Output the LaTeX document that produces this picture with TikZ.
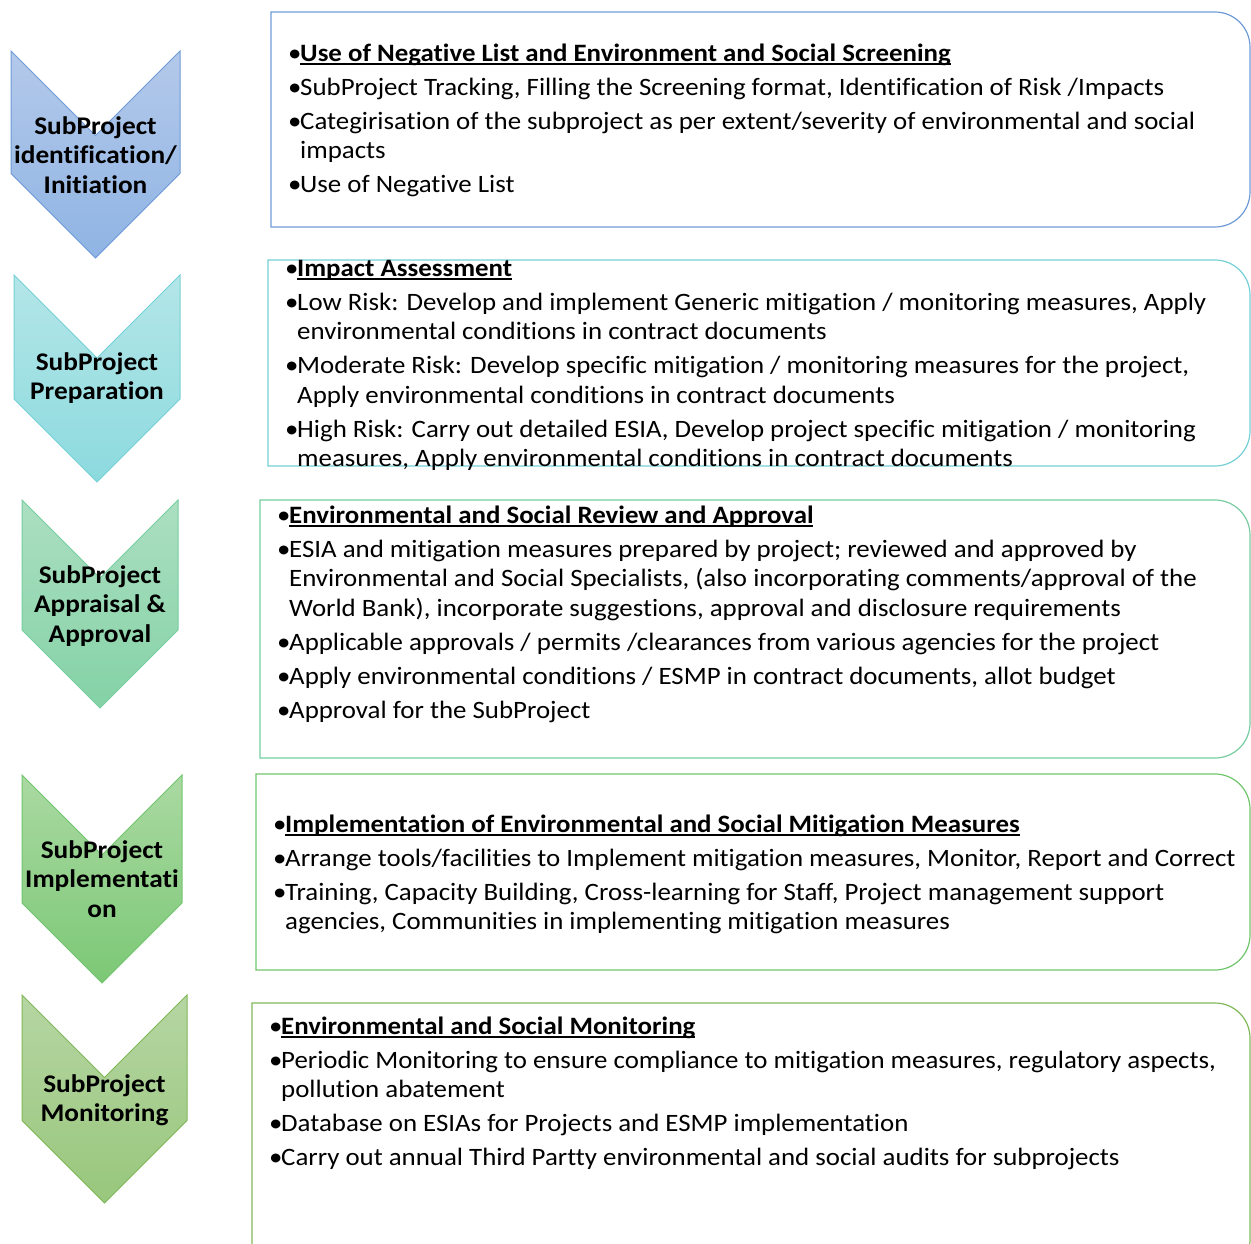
\documentclass[tikz,border=0pt]{standalone}
\usepackage{fontspec}
\setmainfont{Carlito}[FakeStretch=1.075, Ligatures=CommonOff]
\definecolor{b1}{RGB}{110,155,215}
\definecolor{b2}{RGB}{115,208,213}
\definecolor{b3}{RGB}{118,205,160}
\definecolor{b4}{RGB}{112,196,108}
\definecolor{b5}{RGB}{128,184,88}
\definecolor{c1t}{RGB}{180,201,234}
\definecolor{c1b}{RGB}{143,180,228}
\definecolor{c2t}{RGB}{180,230,232}
\definecolor{c2b}{RGB}{140,218,222}
\definecolor{c3t}{RGB}{172,223,193}
\definecolor{c3b}{RGB}{132,210,166}
\definecolor{c4t}{RGB}{170,217,162}
\definecolor{c4b}{RGB}{124,200,118}
\definecolor{c5t}{RGB}{182,213,163}
\definecolor{c5b}{RGB}{152,199,124}
\newcommand\hdr[1]{\setbox0\hbox{\bfseries #1}\rlap{\rule[-3.5pt]{\wd0}{1.7pt}}\box0}
\newcommand\bitem[1]{\par\hangindent=12pt\hangafter=1\noindent\makebox[12pt][l]{•}#1}
\newenvironment{boxtext}{\begin{minipage}[t]{1100pt}\fontsize{25}{29.5}\selectfont\setlength\parskip{4.5pt}\raggedright}{\end{minipage}}
\tikzset{
  chev/.style={line width=1pt},
  panel/.style={line width=1.2pt},
  chlabel/.style={font=\fontsize{25.4}{29.5}\selectfont\bfseries, align=center, inner sep=0pt},
  paneltext/.style={anchor=base west, inner sep=0pt}
}
\begin{document}
\begin{tikzpicture}[x=1pt,y=1pt]
\useasboundingbox (0,0) rectangle (1251,-1243);
\clip (0,0) rectangle (1251,-1243);
% chevrons
\draw[chev, draw=b1, top color=c1t, bottom color=c1b] (11,-51) -- (95.5,-135.5) -- (180,-51) -- (180,-173.5) -- (95.5,-258) -- (11,-173.5) -- cycle;
\draw[chev, draw=b2, top color=c2t, bottom color=c2b] (14,-275) -- (97,-358) -- (180,-275) -- (180,-399) -- (97,-482) -- (14,-399) -- cycle;
\draw[chev, draw=b3, top color=c3t, bottom color=c3b] (22,-500) -- (100,-578) -- (178,-500) -- (178,-630) -- (100,-708) -- (22,-630) -- cycle;
\draw[chev, draw=b4, top color=c4t, bottom color=c4b] (22,-775) -- (102,-855) -- (182,-775) -- (182,-903) -- (102,-983) -- (22,-903) -- cycle;
\draw[chev, draw=b5, top color=c5t, bottom color=c5b] (22,-995) -- (104.5,-1077.5) -- (187,-995) -- (187,-1120.5) -- (104.5,-1203) -- (22,-1120.5) -- cycle;
\node[chlabel] (l1) at (95.5,-155) {SubProject\\identification/\\Initiation};
\node[chlabel] (l2) at (97,-378) {SubProject\\Preparation};
\node[chlabel] (l3) at (100,-606) {SubProject\\Appraisal \&\\Approval};
\node[chlabel] (l4) at (102,-879) {SubProject\\Implementati\\on};
\node[chlabel] (l5) at (104.5,-1100) {SubProject\\Monitoring};
% panels
\draw[panel, draw=b1] (271,-12) -- (1215,-12) arc[start angle=90,end angle=0,radius=35] -- (1250,-192) arc[start angle=0,end angle=-90,radius=35] -- (271,-227) -- cycle;
\draw[panel, draw=b2] (268,-260) -- (1215,-260) arc[start angle=90,end angle=0,radius=35] -- (1250,-431) arc[start angle=0,end angle=-90,radius=35] -- (268,-466) -- cycle;
\draw[panel, draw=b3] (260,-500) -- (1215,-500) arc[start angle=90,end angle=0,radius=35] -- (1250,-723) arc[start angle=0,end angle=-90,radius=35] -- (260,-758) -- cycle;
\draw[panel, draw=b4] (256,-774) -- (1215,-774) arc[start angle=90,end angle=0,radius=35] -- (1250,-935) arc[start angle=0,end angle=-90,radius=35] -- (256,-970) -- cycle;
\draw[panel, draw=b5] (252,-1003) -- (1215,-1003) arc[start angle=90,end angle=0,radius=35] -- (1250,-1240) arc[start angle=0,end angle=-90,radius=35] -- (252,-1275) -- cycle;
% texts
\node[paneltext] (t1) at (288,-61) {\begin{boxtext}
\bitem{\hdr{Use of Negative List and Environment and Social Screening}}
\bitem{SubProject Tracking, Filling the Screening format, Identification of Risk /Impacts}
\bitem{Categirisation of the subproject as per extent/severity of environmental and social\newline impacts}
\bitem{Use of Negative List}
\end{boxtext}};
\node[paneltext] (t2) at (285,-276) {\begin{boxtext}
\bitem{\hdr{Impact Assessment}}
\bitem{Low Risk: Develop and implement Generic mitigation / monitoring measures, Apply\newline environmental conditions in contract documents}
\bitem{Moderate Risk: Develop specific mitigation / monitoring measures for the project,\newline Apply environmental conditions in contract documents}
\bitem{High Risk: Carry out detailed ESIA, Develop project specific mitigation / monitoring\newline measures, Apply environmental conditions in contract documents}
\end{boxtext}};
\node[paneltext] (t3) at (277,-523) {\begin{boxtext}
\bitem{\hdr{Environmental and Social Review and Approval}}
\bitem{ESIA and mitigation measures prepared by project; reviewed and approved by\newline Environmental and Social Specialists, (also incorporating comments/approval of the\newline World Bank), incorporate suggestions, approval and disclosure requirements}
\bitem{Applicable approvals / permits /clearances from various agencies for the project}
\bitem{Apply environmental conditions / ESMP in contract documents, allot budget}
\bitem{Approval for the SubProject}
\end{boxtext}};
\node[paneltext] (t4) at (273,-832) {\begin{boxtext}
\bitem{\hdr{Implementation of Environmental and Social Mitigation Measures}}
\bitem{Arrange tools/facilities to Implement mitigation measures, Monitor, Report and Correct}
\bitem{Training, Capacity Building, Cross-learning for Staff, Project management support\newline agencies, Communities in implementing mitigation measures}
\end{boxtext}};
\node[paneltext] (t5) at (269,-1034) {\begin{boxtext}
\bitem{\hdr{Environmental and Social Monitoring}}
\bitem{Periodic Monitoring to ensure compliance to mitigation measures, regulatory aspects,\newline pollution abatement}
\bitem{Database on ESIAs for Projects and ESMP implementation}
\bitem{Carry out annual Third Partty environmental and social audits for subprojects}
\end{boxtext}};
\end{tikzpicture}
\end{document}
